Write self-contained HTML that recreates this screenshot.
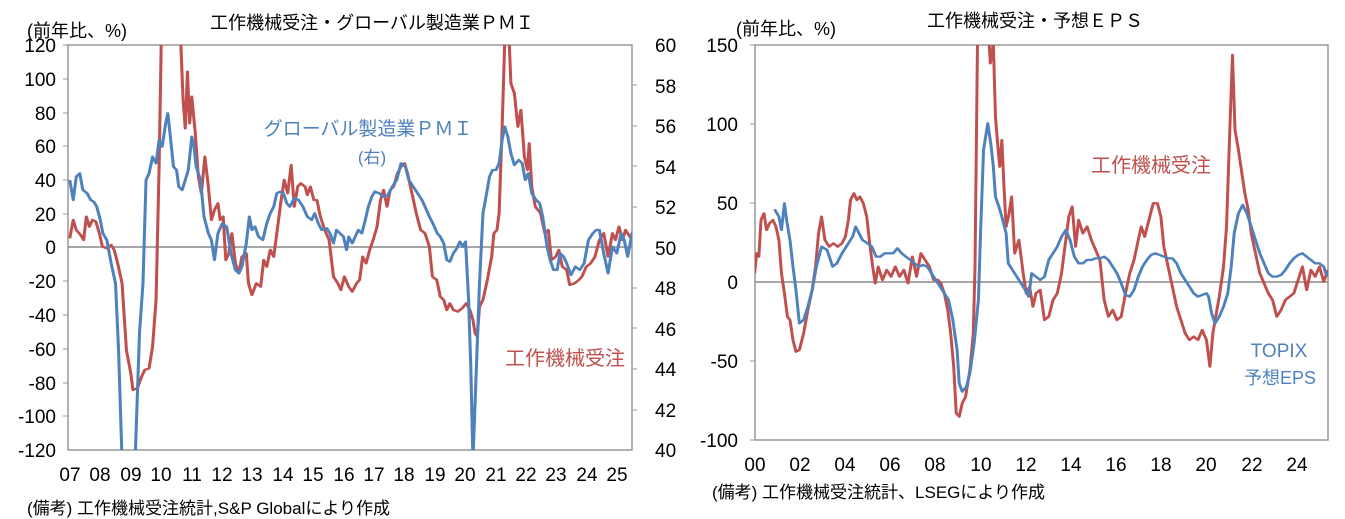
<!DOCTYPE html>
<html><head><meta charset="utf-8"><style>
html,body{margin:0;padding:0;background:#fff;overflow:hidden;width:1345px;height:519px;}
svg{display:block;font-family:"Liberation Sans Narrow","Liberation Sans","Noto Sans CJK JP",sans-serif;}
.j{font-family:"Liberation Sans","Noto Sans CJK JP",sans-serif;}
</style></head><body>
<svg width="1345" height="519" viewBox="0 0 1345 519">
<defs>
<clipPath id="cl"><rect x="68" y="45" width="564" height="405"/></clipPath>
<clipPath id="cr"><rect x="755" y="45" width="573" height="395"/></clipPath>
</defs>
<!-- LEFT CHART -->
<rect x="68" y="45" width="564" height="405" fill="none" stroke="#999" stroke-width="1.5"/>
<line x1="68" y1="247" x2="632" y2="247" stroke="#888" stroke-width="1.5"/>
<g stroke="#999" stroke-width="1">
<line x1="63" y1="45" x2="68" y2="45"/><line x1="63" y1="79" x2="68" y2="79"/><line x1="63" y1="113" x2="68" y2="113"/><line x1="63" y1="146" x2="68" y2="146"/><line x1="63" y1="180" x2="68" y2="180"/><line x1="63" y1="214" x2="68" y2="214"/><line x1="63" y1="281" x2="68" y2="281"/><line x1="63" y1="315" x2="68" y2="315"/><line x1="63" y1="349" x2="68" y2="349"/><line x1="63" y1="383" x2="68" y2="383"/><line x1="63" y1="416" x2="68" y2="416"/>
<line x1="632" y1="85" x2="637" y2="85"/><line x1="632" y1="126" x2="637" y2="126"/><line x1="632" y1="166" x2="637" y2="166"/><line x1="632" y1="207" x2="637" y2="207"/><line x1="632" y1="288" x2="637" y2="288"/><line x1="632" y1="328" x2="637" y2="328"/><line x1="632" y1="369" x2="637" y2="369"/><line x1="632" y1="410" x2="637" y2="410"/>
</g>
<g font-size="19" text-anchor="end" fill="#000">
<text x="56" y="52">120</text><text x="56" y="86">100</text><text x="56" y="120">80</text><text x="56" y="153">60</text><text x="56" y="187">40</text><text x="56" y="221">20</text><text x="56" y="254">0</text><text x="56" y="288">-20</text><text x="56" y="322">-40</text><text x="56" y="356">-60</text><text x="56" y="390">-80</text><text x="56" y="423">-100</text><text x="56" y="457">-120</text>
</g>
<g font-size="19" fill="#000">
<text x="655" y="52">60</text><text x="655" y="93">58</text><text x="655" y="133">56</text><text x="655" y="174">54</text><text x="655" y="214">52</text><text x="655" y="255">50</text><text x="655" y="295">48</text><text x="655" y="336">46</text><text x="655" y="376">44</text><text x="655" y="417">42</text><text x="655" y="457">40</text>
</g>
<g font-size="19" text-anchor="middle" fill="#000">
<text x="70" y="481">07</text><text x="100" y="481">08</text><text x="131" y="481">09</text><text x="161" y="481">10</text><text x="192" y="481">11</text><text x="222" y="481">12</text><text x="252" y="481">13</text><text x="283" y="481">14</text><text x="313" y="481">15</text><text x="344" y="481">16</text><text x="374" y="481">17</text><text x="404" y="481">18</text><text x="435" y="481">19</text><text x="465" y="481">20</text><text x="496" y="481">21</text><text x="526" y="481">22</text><text x="556" y="481">23</text><text x="587" y="481">24</text><text x="617" y="481">25</text>
</g>
<text class="j" x="27" y="37" font-size="18">(前年比、%)</text>
<text class="j" x="372" y="29" font-size="18" text-anchor="middle">工作機械受注・グローバル製造業ＰＭＩ</text>
<text class="j" x="27" y="514" font-size="17">(備考) 工作機械受注統計,S&amp;P Globalにより作成</text>
<text class="j" x="368" y="135" font-size="19" fill="#4f81bd" text-anchor="middle">グローバル製造業ＰＭＩ</text>
<text class="j" x="372" y="163" font-size="17" fill="#4f81bd" text-anchor="middle">(右)</text>
<text class="j" x="565" y="365" font-size="20" fill="#c0504d" text-anchor="middle">工作機械受注</text>
<g clip-path="url(#cl)"><g transform="scale(0.4359,0.3333)" fill="none" stroke-width="7" stroke-linejoin="round">
<polyline stroke="#c0504d" points="160,715 168,660 175,690 185,705 192,720 198,650 205,680 212,660 220,665 228,700 235,740 245,745 255,735 262,750 270,790 280,850 290,1050 300,1120 305,1170 315,1165 325,1130 332,1110 342,1105 350,1040 358,900 365,500 370,120 380,80 410,80 415,137 420,300 425,385 430,215 435,370 440,290 448,400 455,530 462,580 470,470 478,560 485,660 492,630 500,610 505,660 512,650 518,780 525,760 532,700 540,790 548,820 555,770 565,760 570,850 578,885 588,850 598,860 605,780 612,800 620,750 628,770 635,700 645,600 652,540 660,580 668,495 675,620 683,560 690,550 700,560 705,585 712,560 720,600 727,600 735,650 745,690 755,720 765,830 775,850 782,870 790,830 800,860 808,875 818,850 825,840 832,770 840,790 848,750 856,720 865,680 873,600 880,570 888,620 895,570 903,560 912,520 920,500 928,490 935,520 945,580 955,640 965,690 975,700 985,740 992,830 1002,840 1010,890 1018,900 1025,930 1032,910 1040,930 1050,935 1060,925 1070,910 1078,930 1085,960 1090,1000 1095,1010 1100,920 1108,900 1118,840 1128,770 1133,700 1140,690 1145,640 1152,380 1158,120 1164,80 1168,120 1172,250 1180,280 1188,380 1195,330 1203,470 1210,510 1214,430 1220,560 1228,620 1240,640 1250,700 1258,690 1265,780 1275,770 1282,750 1290,800 1300,810 1307,855 1318,850 1328,840 1335,830 1345,800 1355,790 1365,770 1375,720 1385,700 1395,770 1405,700 1412,720 1420,680 1428,720 1435,690 1445,710 1455,730 1465,700"/>
<polyline stroke="#4f81bd" points="160,540 168,600 175,530 183,520 190,570 200,580 208,600 215,605 222,620 230,660 236,700 245,720 255,790 265,850 272,1050 280,1380 310,1380 320,1000 328,850 335,540 342,520 350,470 358,490 365,420 372,440 380,370 385,340 390,400 398,500 405,510 410,560 418,570 425,540 432,510 440,410 445,440 450,500 460,540 468,650 478,700 485,720 492,780 500,700 510,670 520,680 530,760 540,810 548,820 555,800 565,730 572,650 578,690 585,680 593,710 603,720 612,670 620,640 628,620 635,580 643,575 650,580 658,610 665,620 675,595 685,600 695,620 705,650 715,660 722,640 730,670 738,690 750,685 757,700 765,730 772,690 780,700 788,710 795,750 800,710 808,730 815,710 822,690 830,700 838,660 845,620 853,590 860,575 870,580 880,590 890,585 900,560 910,540 920,490 930,500 938,540 948,560 958,580 968,600 975,620 985,650 993,670 1003,700 1010,710 1018,730 1025,780 1032,785 1040,760 1048,745 1055,725 1062,740 1068,725 1075,900 1080,1100 1085,1380 1093,1100 1100,850 1108,640 1115,590 1123,530 1130,510 1138,510 1145,490 1152,420 1158,380 1165,410 1172,460 1180,495 1190,480 1198,490 1205,540 1212,520 1220,580 1230,600 1238,610 1245,650 1255,740 1262,780 1270,810 1278,810 1285,760 1293,770 1300,790 1310,825 1320,800 1330,810 1340,790 1350,720 1360,700 1368,690 1375,690 1385,760 1395,820 1405,740 1415,760 1425,700 1432,720 1440,770 1450,700 1458,685"/>
</g></g>

<!-- RIGHT CHART -->
<rect x="755" y="45" width="573" height="395" fill="none" stroke="#999" stroke-width="1.5"/>
<line x1="755" y1="282" x2="1328" y2="282" stroke="#888" stroke-width="1.5"/>
<g stroke="#999" stroke-width="1">
<line x1="750" y1="45" x2="755" y2="45"/><line x1="750" y1="124" x2="755" y2="124"/><line x1="750" y1="203" x2="755" y2="203"/><line x1="750" y1="361" x2="755" y2="361"/><line x1="750" y1="440" x2="755" y2="440"/>
</g>
<g font-size="19" text-anchor="end" fill="#000">
<text x="738" y="52">150</text><text x="738" y="131">100</text><text x="738" y="210">50</text><text x="738" y="289">0</text><text x="738" y="368">-50</text><text x="738" y="447">-100</text>
</g>
<g font-size="19" text-anchor="middle" fill="#000">
<text x="755" y="471">00</text><text x="800" y="471">02</text><text x="845" y="471">04</text><text x="890" y="471">06</text><text x="935" y="471">08</text><text x="981" y="471">10</text><text x="1026" y="471">12</text><text x="1071" y="471">14</text><text x="1116" y="471">16</text><text x="1161" y="471">18</text><text x="1206" y="471">20</text><text x="1252" y="471">22</text><text x="1297" y="471">24</text>
</g>
<text class="j" x="736" y="35" font-size="18">(前年比、%)</text>
<text class="j" x="1035" y="27" font-size="18" text-anchor="middle">工作機械受注・予想ＥＰＳ</text>
<text class="j" x="712" y="498" font-size="17">(備考) 工作機械受注統計、LSEGにより作成</text>
<text class="j" x="1151" y="172" font-size="20" fill="#c0504d" text-anchor="middle">工作機械受注</text>
<text x="1279" y="357" font-size="19" fill="#4f81bd" text-anchor="middle">TOPIX</text>
<text class="j" x="1280" y="384" font-size="18" fill="#4f81bd" text-anchor="middle">予想EPS</text>
<g clip-path="url(#cr)"><g transform="translate(680,0) scale(0.4263,0.3333)" fill="none" stroke-width="7" stroke-linejoin="round">
<polyline stroke="#c0504d" points="175,820 180,760 185,770 190,660 197,640 203,690 210,670 218,660 225,680 232,720 238,820 245,880 252,950 258,960 265,1020 272,1055 280,1050 290,1000 300,930 310,870 318,800 325,700 332,650 340,720 350,740 360,730 370,740 380,730 388,710 395,660 400,600 408,580 415,600 422,590 430,610 438,650 445,730 452,800 458,850 465,800 475,840 485,810 495,830 505,800 515,830 525,810 535,850 545,770 555,830 565,760 575,780 585,800 595,840 605,840 612,850 620,880 628,930 635,1000 642,1100 648,1240 655,1250 662,1210 670,1190 680,1110 688,1000 692,800 698,110 710,80 720,110 725,128 728,190 735,130 740,350 745,430 750,500 755,420 760,560 765,680 772,640 778,590 785,760 795,720 805,820 812,880 820,860 828,920 835,880 845,870 855,960 865,950 875,900 885,880 895,820 905,720 912,650 920,620 928,740 935,660 945,700 955,680 965,720 975,750 985,780 995,900 1005,950 1015,930 1025,960 1035,950 1045,880 1055,820 1065,780 1075,720 1082,680 1090,710 1100,660 1110,610 1120,610 1128,650 1135,740 1145,800 1155,860 1165,920 1175,960 1185,1000 1195,1020 1205,1010 1215,1020 1225,990 1235,1020 1243,1100 1250,1000 1258,940 1265,890 1275,800 1282,680 1290,380 1296,165 1302,390 1310,450 1318,520 1325,580 1333,630 1340,700 1350,760 1360,820 1370,850 1380,880 1390,900 1400,950 1410,930 1420,900 1430,890 1440,880 1450,840 1460,800 1470,870 1480,810 1490,830 1500,800 1510,845 1520,810"/>
<polyline stroke="#4f81bd" points="222,628 232,650 238,690 245,610 250,660 258,720 265,800 272,870 280,970 290,960 300,920 310,870 320,800 332,740 345,750 358,800 368,790 380,760 395,730 405,710 412,680 420,700 428,720 440,730 450,740 460,770 470,770 480,760 490,760 500,760 510,745 520,760 530,770 540,780 550,790 560,800 570,795 580,800 590,820 600,840 610,860 620,880 630,900 640,960 650,1050 655,1150 662,1175 672,1160 680,1120 690,1030 700,900 705,700 712,450 722,370 730,440 735,500 740,590 748,620 755,650 765,700 770,790 780,810 790,830 800,850 810,870 818,890 825,820 835,830 845,840 855,830 865,780 875,760 885,740 895,710 905,690 915,720 925,770 935,790 945,790 955,780 965,780 975,775 985,775 995,770 1005,780 1015,800 1025,820 1035,850 1045,885 1055,890 1065,870 1075,830 1085,800 1095,780 1105,765 1115,760 1125,765 1135,770 1145,775 1155,775 1165,790 1175,820 1185,840 1195,860 1205,880 1215,890 1225,885 1235,880 1240,890 1247,940 1255,970 1265,950 1275,920 1285,880 1293,800 1300,700 1310,640 1320,615 1330,640 1340,680 1350,720 1360,760 1370,790 1380,820 1390,830 1400,830 1410,825 1420,810 1430,790 1440,775 1450,765 1460,760 1470,770 1480,780 1490,790 1500,790 1510,800 1515,820 1522,830"/>
</g></g>
</svg>
</body></html>
